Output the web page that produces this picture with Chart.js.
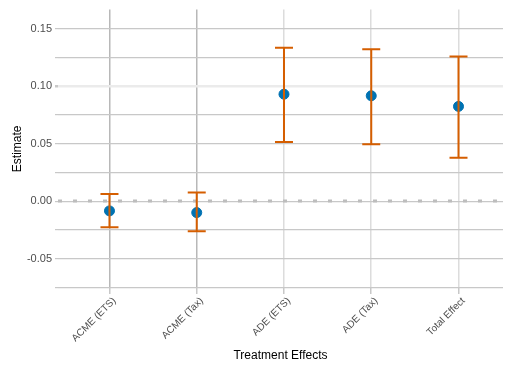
<!DOCTYPE html>
<html>
<head>
<meta charset="utf-8">
<script src="https://cdn.jsdelivr.net/npm/chart.js@4.4.1/dist/chart.umd.min.js"></script>
<style>
  html, body { margin: 0; padding: 0; background: #fff; }
  #wrap { width: 509px; height: 366px; }
</style>
</head>
<body>
<div id="wrap"><canvas id="mainChart"></canvas></div>
<script>
const categories = ['ACME (ETS)', 'ACME (Tax)', 'ADE (ETS)', 'ADE (Tax)', 'Total Effect'];
const estimates = [-0.0085, -0.0100, 0.0929, 0.0915, 0.0823];
const lowerCI = [-0.0228, -0.0262, 0.0513, 0.0493, 0.0376];
const upperCI = [0.0062, 0.0074, 0.1333, 0.1319, 0.1256];
const zeroLine = 0;

const FONT = "'Liberation Sans', Arial, Helvetica, sans-serif";

const errorBars = {
    id: 'errorBars',
    beforeDatasetsDraw(chart) {
        const { ctx, chartArea, scales: { y } } = chart;
        const py = y.getPixelForValue(zeroLine);
        ctx.save();
        ctx.strokeStyle = '#bdbdbd';
        ctx.lineWidth = 3;
        ctx.setLineDash([4, 11]);
        ctx.beginPath();
        ctx.moveTo(chartArea.left, py);
        ctx.lineTo(chartArea.right, py);
        ctx.stroke();
        ctx.restore();
    },
    afterDatasetsDraw(chart) {
        const { ctx, scales: { x, y } } = chart;
        ctx.save();
        ctx.strokeStyle = '#D55E00';
        ctx.lineWidth = 2;
        categories.forEach((c, i) => {
            const px = x.getPixelForValue(i);
            const lo = y.getPixelForValue(lowerCI[i]);
            const hi = y.getPixelForValue(upperCI[i]);
            ctx.beginPath();
            ctx.moveTo(px, lo); ctx.lineTo(px, hi);
            ctx.moveTo(px - 9, lo); ctx.lineTo(px + 9, lo);
            ctx.moveTo(px - 9, hi); ctx.lineTo(px + 9, hi);
            ctx.stroke();
        });
        ctx.restore();
    }
};

new Chart(document.getElementById('mainChart'), {
    type: 'scatter',
    data: {
        datasets: [{
            data: estimates.map((v, i) => ({ x: i, y: v })),
            backgroundColor: '#0072B2',
            borderColor: '#0072B2',
            pointRadius: 5,
            pointHoverRadius: 5
        }]
    },
    plugins: [errorBars],
    options: {
        responsive: true,
        maintainAspectRatio: false,
        animation: false,
        layout: { padding: { top: 7, right: 1, left: 10, bottom: 0 } },
        plugins: { legend: { display: false }, tooltip: { enabled: false } },
        scales: {
            x: {
                type: 'linear',
                min: -0.59,
                max: 4.51,
                afterBuildTicks: s => { s.ticks = categories.map((c, i) => ({ value: i })); },
                afterFit: s => { s.height = 78; },
                border: { display: false },
                grid: {
                    color: ctx => ctx.index < 2 ? '#b8b8b8' : '#dcdcdc',
                    lineWidth: 1.5,
                    drawTicks: true,
                    tickLength: 6,
                    tickColor: '#c8c8c8'
                },
                ticks: {
                    callback: v => categories[v],
                    minRotation: 45,
                    maxRotation: 45,
                    padding: 1,
                    labelOffset: 5,
                    color: '#4d4d4d',
                    font: { family: FONT, size: 10 }
                },
                title: {
                    display: true,
                    text: 'Treatment Effects',
                    color: '#000',
                    font: { family: FONT, size: 12 },
                    padding: { top: 0, bottom: 3 }
                }
            },
            y: {
                min: -0.0755,
                max: 0.1664,
                afterFit: s => { s.width = 48; },
                border: { display: false },
                grid: {
                    color: ctx => Math.abs(ctx.tick.value - 0.1) < 1e-6 ? '#ebebeb' : '#c8c8c8',
                    lineWidth: ctx => Math.abs(ctx.tick.value - 0.1) < 1e-6 ? 2.5 : 1.2,
                    drawTicks: true,
                    tickLength: 3,
                    tickColor: '#c8c8c8'
                },
                ticks: {
                    stepSize: 0.025,
                    includeBounds: false,
                    padding: 3,
                    color: '#4d4d4d',
                    font: { family: FONT, size: 11 },
                    callback: v => {
                        const k = Math.round(v / 0.025);
                        return k % 2 === 0 ? v.toFixed(2) : '';
                    }
                },
                title: {
                    display: true,
                    text: 'Estimate',
                    color: '#000',
                    font: { family: FONT, size: 12 },
                    padding: { top: 0, bottom: 4 }
                }
            }
        }
    }
});
</script>
</body>
</html>
